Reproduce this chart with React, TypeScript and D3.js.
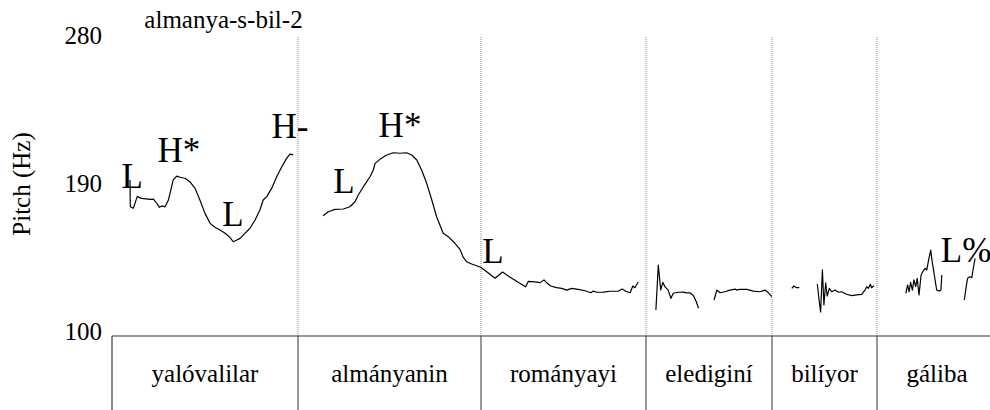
import * as d3 from 'd3';

// interval tier (words) and their boundaries in seconds
const words = ["yalóvalilar", "almányanin", "románuayi", "elediginí", "bilíyor", "gáliba"];
const wordLabels = ["yalóvalilar", "almányanin", "rományayi", "elediginí", "bilíyor", "gáliba"];
const boundaries = [0, 0.62, 1.23, 1.78, 2.2, 2.55, 2.95];

const yTicks = [100, 190, 280];
const title = "almanya-s-bil-2";

// tone labels: text, time (s), Hz (baseline)
const toneText = ["L", "H*", "L", "H-", "L", "H*", "L", "L%"];
const toneTime = [0.067, 0.223, 0.403, 0.593, 0.773, 0.96, 1.27, 2.847];
const toneHz = [187.6, 203.0, 165.1, 217.2, 184.7, 217.8, 143.2, 143.8];

// pitch contour pieces [time s, Hz]
const pitch1: [number, number][] = [
  [0.060, 192.4], [0.061, 176.5], [0.071, 175.6], [0.084, 182.5], [0.099, 181.5],
  [0.127, 180.9], [0.138, 181.1], [0.149, 178.6], [0.158, 176.2], [0.166, 177.0],
  [0.177, 176.5], [0.188, 180.5], [0.196, 186.4], [0.204, 192.4], [0.216, 194.7],
  [0.227, 194.0], [0.243, 193.4], [0.260, 191.3], [0.277, 187.4], [0.293, 180.5],
  [0.310, 172.6], [0.327, 166.7], [0.343, 164.4], [0.360, 162.8], [0.377, 160.8],
  [0.393, 158.4], [0.404, 155.8], [0.416, 156.8], [0.427, 157.8], [0.443, 160.8],
  [0.460, 163.8], [0.477, 168.7], [0.493, 174.6], [0.504, 180.5], [0.516, 182.5],
  [0.532, 187.4], [0.549, 194.3], [0.566, 200.2], [0.582, 205.2], [0.593, 207.7],
  [0.604, 207.2],
];

const pitch2: [number, number][] = [
  [0.704, 171.2], [0.721, 173.6], [0.743, 175.0], [0.771, 175.2], [0.793, 176.5],
  [0.810, 179.5], [0.821, 183.5], [0.838, 188.4], [0.860, 194.3], [0.871, 198.3],
  [0.877, 202.2], [0.893, 204.6], [0.916, 207.2], [0.938, 208.5], [0.960, 208.2],
  [0.982, 208.5], [0.999, 207.2], [1.016, 204.2], [1.032, 198.3], [1.049, 190.4],
  [1.066, 180.5], [1.082, 170.6], [1.104, 160.8], [1.121, 158.8], [1.143, 154.9],
  [1.160, 151.3], [1.171, 146.5], [1.182, 144.0], [1.199, 142.6], [1.229, 140.7],
  [1.249, 138.1], [1.277, 134.2], [1.302, 137.9], [1.327, 134.8], [1.354, 131.8],
  [1.379, 129.2], [1.388, 132.4], [1.410, 132.0], [1.427, 131.6], [1.440, 133.2],
  [1.451, 131.2], [1.462, 129.6], [1.482, 128.6], [1.499, 128.2], [1.516, 127.2],
  [1.532, 128.2], [1.554, 127.6], [1.577, 126.8], [1.596, 125.6], [1.604, 126.6],
  [1.616, 125.9], [1.638, 126.0], [1.660, 126.5], [1.688, 126.6], [1.701, 127.8],
  [1.712, 126.5], [1.727, 125.6], [1.736, 129.6], [1.743, 128.6], [1.754, 132.0],
];

const pitch3: [number, number][] = [
  [1.813, 115.4], [1.821, 142.0], [1.829, 127.2], [1.836, 131.8], [1.843, 129.2],
  [1.854, 127.2], [1.863, 122.3], [1.871, 125.3], [1.888, 125.9], [1.904, 126.0],
  [1.916, 125.5], [1.927, 125.5], [1.938, 124.0], [1.948, 120.1], [1.955, 116.4],
];

const pitch4: [number, number][] = [
  [2.007, 121.3], [2.016, 127.2], [2.027, 125.6], [2.043, 126.2], [2.060, 127.2],
  [2.077, 127.8], [2.082, 127.2], [2.093, 127.6], [2.116, 127.6], [2.138, 126.6],
  [2.160, 126.2], [2.177, 127.2], [2.188, 125.6], [2.199, 123.3],
];

const pitch5: [number, number][] = [
  [2.266, 128.2], [2.273, 129.6], [2.282, 128.6], [2.291, 128.6],
];

const pitch6: [number, number][] = [
  [2.351, 130.8], [2.357, 121.3], [2.362, 114.2], [2.368, 139.1], [2.373, 118.4],
  [2.379, 131.4], [2.384, 123.7], [2.391, 128.2], [2.399, 126.2], [2.410, 127.2],
  [2.421, 125.9], [2.432, 126.2], [2.449, 124.7], [2.466, 123.9], [2.482, 124.3],
  [2.499, 124.7], [2.510, 127.2], [2.516, 129.2], [2.521, 128.2], [2.528, 130.6],
  [2.532, 128.6], [2.540, 129.8],
];

const pitch7: [number, number][] = [
  [2.646, 125.3], [2.652, 130.2], [2.657, 126.2], [2.662, 131.8], [2.668, 127.2],
  [2.673, 133.2], [2.679, 129.2], [2.684, 134.2], [2.690, 124.3], [2.697, 136.1],
  [2.704, 138.5], [2.710, 140.1], [2.716, 139.1], [2.721, 144.0], [2.729, 150.9],
  [2.734, 144.0], [2.741, 136.1], [2.749, 127.2], [2.757, 126.6], [2.763, 127.2],
  [2.766, 136.1],
];

const pitch8: [number, number][] = [
  [2.841, 121.3], [2.849, 131.2], [2.852, 134.2], [2.860, 135.1], [2.866, 134.5],
  [2.871, 140.1], [2.877, 146.0],
];

const pitchPieces = [pitch1, pitch2, pitch3, pitch4, pitch5, pitch6, pitch7, pitch8];

export default function App() {
  const width = 990;
  const height = 410;
  const plotTop = 32;
  const plotBottom = 336;
  const font = "'Liberation Serif', 'Times New Roman', serif";

  const x = d3.scaleLinear().domain([0, 2.95]).range([112, 997]);
  const y = d3.scaleLinear().domain([100, 280]).range([plotBottom, plotTop]);
  // tick label baselines sit a little off the tick values, as in the source
  const yLabel = d3.scaleLinear().domain([100, 280]).range([340, 44]);

  const line = d3.line<[number, number]>()
    .x(d => x(d[0]))
    .y(d => y(d[1]));

  const inner = boundaries.slice(1, -1);

  return (
    <svg width={width} height={height} style={{ position: 'absolute', left: 0, top: 0 }}
      fontFamily={font}>
      <rect x={0} y={0} width={width} height={height} fill="#fff" />

      <text x={223.5} y={28} fontSize={25} textAnchor="middle">{title}</text>

      <text transform={`translate(30,${y(190)}) rotate(-90)`} fontSize={25}
        textAnchor="middle">Pitch (Hz)</text>

      {yTicks.map(v => (
        <text key={v} x={102} y={yLabel(v)} fontSize={25} textAnchor="end">{v}</text>
      ))}

      {inner.map(b => (
        <g key={b}>
          <line x1={x(b)} x2={x(b)} y1={37} y2={plotBottom} stroke="#888"
            strokeWidth={1} strokeDasharray="1,1" />
          <line x1={x(b)} x2={x(b)} y1={plotBottom} y2={height} stroke="#333" strokeWidth={1} />
        </g>
      ))}

      <line x1={x(0)} x2={width} y1={plotBottom} y2={plotBottom} stroke="#333" strokeWidth={1.2} />
      <line x1={x(0)} x2={x(0)} y1={plotBottom} y2={height} stroke="#333" strokeWidth={1.2} />

      {wordLabels.map((w, i) => (
        <text key={w + i} x={(x(boundaries[i]) + x(boundaries[i + 1])) / 2} y={382}
          fontSize={25} textAnchor="middle">{w}</text>
      ))}

      {pitchPieces.map((p, i) => (
        <path key={i} d={line(p) ?? ''} fill="none" stroke="#000" strokeWidth={1.2}
          strokeLinejoin="round" />
      ))}

      {toneText.map((t, i) => (
        <text key={i} x={x(toneTime[i])} y={y(toneHz[i])} fontSize={35}
          textAnchor="middle">{t}</text>
      ))}
    </svg>
  );
}
